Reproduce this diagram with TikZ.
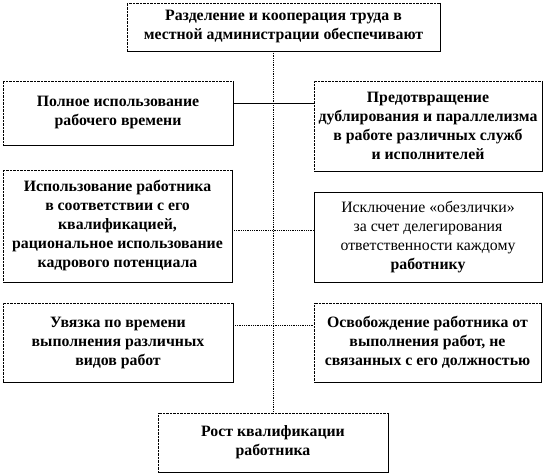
\documentclass[tikz,border=0pt]{standalone}
\usepackage{fontspec}
\setmainfont{LiberationSerif}[Extension=.ttf, UprightFont=*-Regular, BoldFont=*-Bold]
\usepackage{tikz}
\usetikzlibrary{positioning,calc}

\begin{document}
\begin{tikzpicture}[
  x=1pt, y=-1pt,
  box/.style={rectangle, draw, densely dotted, inner sep=1pt, align=center,
    font=\rmfamily\fontsize{15.8}{19}\selectfont\bfseries},
  plainbox/.style={box, solid, font=\rmfamily\fontsize{15.8}{19}\selectfont},
  link/.style={line width=0.8pt},
  dotlink/.style={line width=0.8pt, densely dotted}
  ]
  \useasboundingbox (0,0) rectangle (546,475);
  \node[box, minimum width=313pt, minimum height=48pt] (top) at (283.5,27)
    {Разделение и кооперация труда в\\местной администрации обеспечивают};
  \node[box, minimum width=230pt, minimum height=64pt] (full) at (118,113)
    {Полное использование\\рабочего времени};
  \node[box, minimum width=228pt, minimum height=90pt] (dupl) at (428,126)
    {Предотвращение\\дублирования и параллелизма\\в работе различных служб\\и исполнителей};
  \node[box, minimum width=229pt, minimum height=112pt] (qual) at (117.5,226)
    {Использование работника\\в соответствии с его\\квалификацией,\\рациональное использование\\кадрового потенциала};
  \node[plainbox, minimum width=228pt, minimum height=90pt] (deleg) at (428,237.5)
    {Исключение «обезлички»\\за счет делегирования\\ответственности каждому\\\textbf{работнику}};
  \node[box, minimum width=230pt, minimum height=79pt] (sched) at (118,342.5)
    {Увязка по времени\\выполнения различных\\видов работ};
  \node[box, minimum width=227pt, minimum height=79pt] (free) at (427.5,342.5)
    {Освобождение работника от\\выполнения работ, не\\связанных с его должностью};
  \node[box, minimum width=230pt, minimum height=59pt] (growth) at (273,442.5)
    {Рост квалификации\\работника};
  % solid right and bottom edges
  \foreach \n in {top,full,dupl,qual,deleg,sched,free,growth}
    \draw[link] (\n.north east) -- (\n.south east) -- (\n.south west);
  % middle line and links
  \coordinate (axis) at (273,51);
  \coordinate (l1) at (273,103);
  \coordinate (l2) at (273,230);
  \coordinate (l3) at (273,325);
  \draw[dotlink] (axis) -- (growth.north);
  \draw[link] (full.east |- l1) -- (dupl.west |- l1);
  \draw[dotlink] (qual.east |- l2) -- (deleg.west |- l2);
  \draw[dotlink] (sched.east |- l3) -- (free.west |- l3);
\end{tikzpicture}
\end{document}
